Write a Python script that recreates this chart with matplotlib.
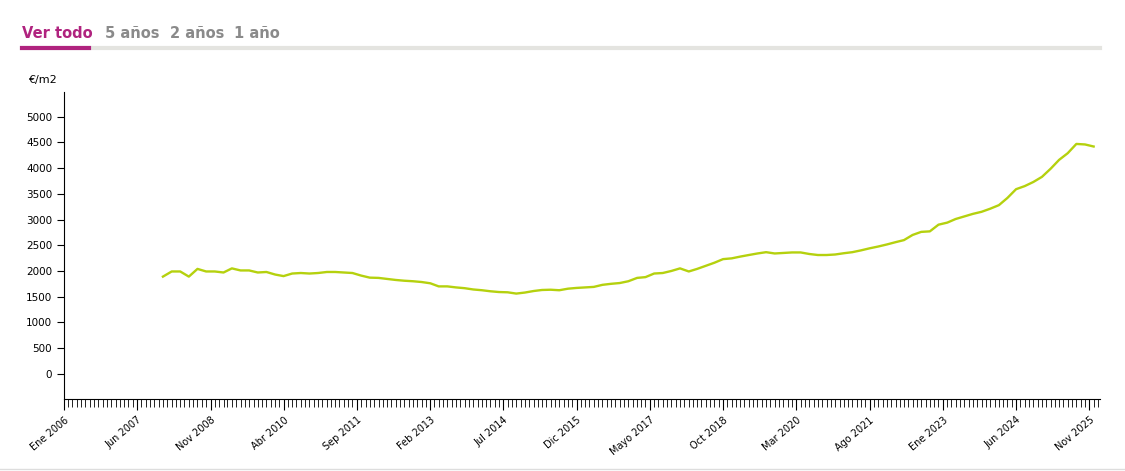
import matplotlib
matplotlib.use("Agg")
import matplotlib.pyplot as plt
import matplotlib.dates as mdates
import pandas as pd
import numpy as np

start = "2007-12-01"
values = [1890,1990,1990,1890,2040,1990,1990,1970,2050,2010,
          2010,1970,1980,1930,1900,1950,1960,1950,1960,1980,
          1980,1970,1960,1910,1870,1865,1845,1825,1810,1800,
          1785,1760,1700,1700,1680,1665,1640,1625,1605,1590,
          1585,1560,1580,1610,1630,1635,1625,1655,1670,1680,
          1690,1730,1750,1765,1800,1865,1880,1950,1960,2000,
          2050,1990,2040,2100,2160,2230,2245,2280,2310,2340,
          2365,2340,2350,2360,2360,2330,2310,2310,2320,2345,
          2365,2400,2440,2475,2515,2560,2600,2700,2760,2770,
          2900,2940,3010,3060,3110,3150,3210,3280,3420,3590,
          3650,3730,3830,3990,4160,4290,4470,4460,4420]
dates = pd.date_range(start, periods=len(values), freq="2MS")
tick_labels = ["Ene 2006","Jun 2007","Nov 2008","Abr 2010","Sep 2011","Feb 2013","Jul 2014",
               "Dic 2015","Mayo 2017","Oct 2018","Mar 2020","Ago 2021","Ene 2023","Jun 2024","Nov 2025"]
tick_dates = pd.date_range("2006-01-01", periods=len(tick_labels), freq="17MS")
yticks = [0,500,1000,1500,2000,2500,3000,3500,4000,4500,5000]
tabs = ["Ver todo","5 años","2 años","1 año"]

W, H = 1125, 471
fig = plt.figure(figsize=(W/100, H/100), dpi=100)
ax = fig.add_axes([64/W, 1-399/H, (1100-64)/W, (399-92)/H])
ax.plot(dates, values, color="#b5d10e", lw=1.7)
ax.set_xlim(pd.Timestamp("2006-01-01"), pd.Timestamp("2026-01-15"))
ax.set_ylim(-490, 5480)
ax.set_yticks(yticks)
ax.set_yticklabels([str(v) for v in yticks], fontsize=7.5)
ax.set_xticks(tick_dates)
ax.set_xticklabels(tick_labels, rotation=40, ha="right", rotation_mode="anchor", fontsize=7)
ax.xaxis.set_minor_locator(mdates.MonthLocator())
ax.tick_params(axis="x", which="major", length=8)
ax.tick_params(axis="x", which="minor", length=6)
ax.tick_params(axis="y", length=5)
for s in ["top", "right"]:
    ax.spines[s].set_visible(False)
ax.text(-0.035, 1.03, "€/m2", transform=ax.transAxes, fontsize=8)

xs = [22, 105, 170, 234]
for i, (t, x) in enumerate(zip(tabs, xs)):
    fig.text(x/W, 1-33/H, t, fontsize=10.5, fontweight="bold",
             color="#b0237f" if i == 0 else "#8a8a8a", va="center")
fig.add_artist(plt.Line2D([22/W, 1100/W], [1-48/H, 1-48/H], color="#e4e4e0", lw=3))
fig.add_artist(plt.Line2D([22/W, 89/W], [1-48/H, 1-48/H], color="#b0237f", lw=3))
fig.add_artist(plt.Line2D([0, 1], [1-469/H, 1-469/H], color="#dddddd", lw=1))
fig.savefig("out.png", dpi=100)
